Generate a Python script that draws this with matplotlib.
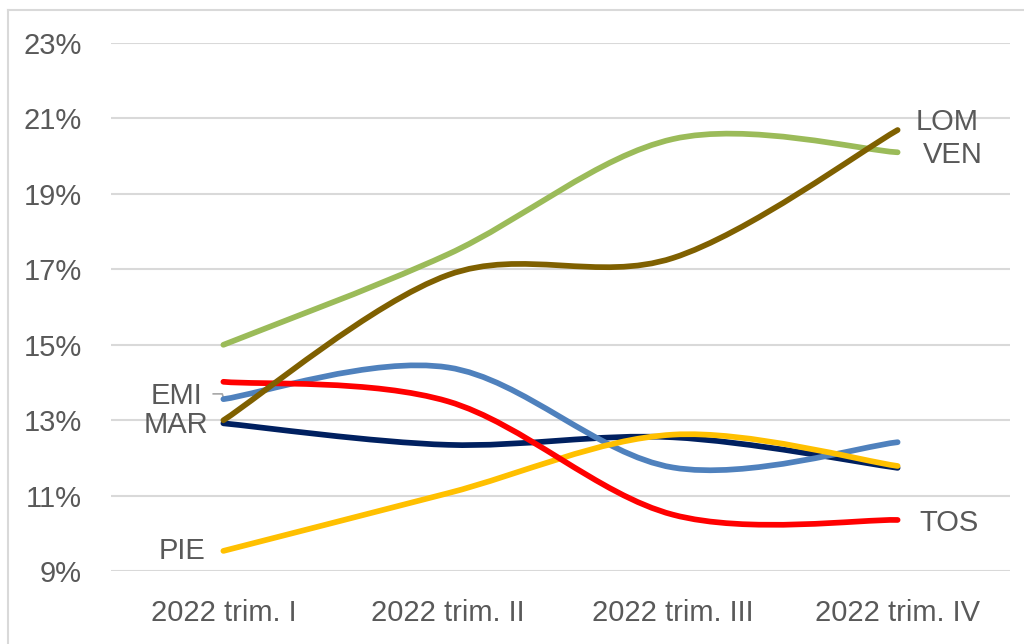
import matplotlib
matplotlib.use("Agg")
import matplotlib.pyplot as plt
from matplotlib.path import Path
from matplotlib.patches import PathPatch
from matplotlib.lines import Line2D

plt.rcParams['font.family'] = ['Liberation Sans Narrow', 'Liberation Sans', 'DejaVu Sans']

quarters = ["2022 trim. I", "2022 trim. II", "2022 trim. III", "2022 trim. IV"]

ven = [15.0, 17.4, 20.45, 20.1]
mar = [12.92, 12.35, 12.55, 11.74]
emi = [13.56, 14.4, 11.75, 12.42]
pie = [9.54, 11.07, 12.62, 11.79]
tos = [14.02, 13.5, 10.5, 10.36]
lom = [13.0, 16.85, 17.3, 20.69]

# drawing order: later series sit on top
series = [
    ("VEN", ven, "#9BBB59"),
    ("MAR", mar, "#002060"),
    ("EMI", emi, "#4F81BD"),
    ("PIE", pie, "#FFC000"),
    ("TOS", tos, "#FF0000"),
    ("LOM", lom, "#7F6000"),
]

# where each name goes: (end index, dx pt, dy pt, ha)
labels = {
    "EMI": (0, -15, 2.5, "right"),
    "MAR": (0, -11, -1.0, "right"),
    "PIE": (0, -13, 0.0, "right"),
    "LOM": (-1, 13, 6, "left"),
    "VEN": (-1, 18, -2, "left"),
    "TOS": (-1, 16, -2.5, "left"),
}

text_col = "#595959"


def smooth_path(xs, ys):
    # cubic bezier through the points, like a spreadsheet "smoothed line"
    n = len(xs)
    verts = [(xs[0], ys[0])]
    codes = [Path.MOVETO]
    for i in range(n - 1):
        i0 = max(i - 1, 0)
        i3 = min(i + 2, n - 1)
        c1 = (xs[i] + (xs[i + 1] - xs[i0]) / 6, ys[i] + (ys[i + 1] - ys[i0]) / 6)
        c2 = (xs[i + 1] - (xs[i3] - xs[i]) / 6, ys[i + 1] - (ys[i3] - ys[i]) / 6)
        verts += [c1, c2, (xs[i + 1], ys[i + 1])]
        codes += [Path.CURVE4] * 3
    return Path(verts, codes)


fig = plt.figure(figsize=(10.24, 6.44), dpi=100)
ax = fig.add_axes([111 / 1024, 0.1129, 899 / 1024, 0.8206])

x = list(range(len(quarters)))
for name, vals, col in series:
    ax.add_patch(PathPatch(smooth_path(x, vals), fill=False, edgecolor=col,
                           lw=4.1, capstyle="round", joinstyle="round", zorder=3))
    idx, dx, dy, ha = labels[name]
    ax.annotate(name, xy=(x[idx], vals[idx]), xytext=(dx, dy),
                textcoords="offset points", ha=ha, va="center",
                fontsize=21, color=text_col, zorder=4)

# small leader line next to the EMI name
ax.add_line(Line2D([-0.045, -0.005, 0.0], [13.7, 13.7, 13.6],
                   color="#a6a6a6", lw=1.2, zorder=2))

ax.set_xlim(-0.5, 3.5)
ax.set_ylim(9, 23)
ax.set_yticks(range(9, 24, 2))
ax.set_yticklabels([f"{v}%" for v in range(9, 24, 2)])
ax.set_xticks(x)
ax.set_xticklabels(quarters)
ax.grid(axis="y", color="#d9d9d9", lw=1.5, zorder=0)
ax.set_axisbelow(True)
for s in ax.spines.values():
    s.set_visible(False)
ax.tick_params(length=0, labelsize=21, colors=text_col)
ax.tick_params(axis="y", pad=21)
ax.tick_params(axis="x", pad=20)

# light frame along the top and left edge
fig.add_artist(Line2D([8 / 1024, 1.0], [1 - 10 / 644, 1 - 10 / 644],
                      transform=fig.transFigure, color="#d9d9d9", lw=1.5))
fig.add_artist(Line2D([8 / 1024, 8 / 1024], [0, 1 - 10 / 644],
                      transform=fig.transFigure, color="#d9d9d9", lw=1.5))

fig.savefig("out.png", dpi=100)
